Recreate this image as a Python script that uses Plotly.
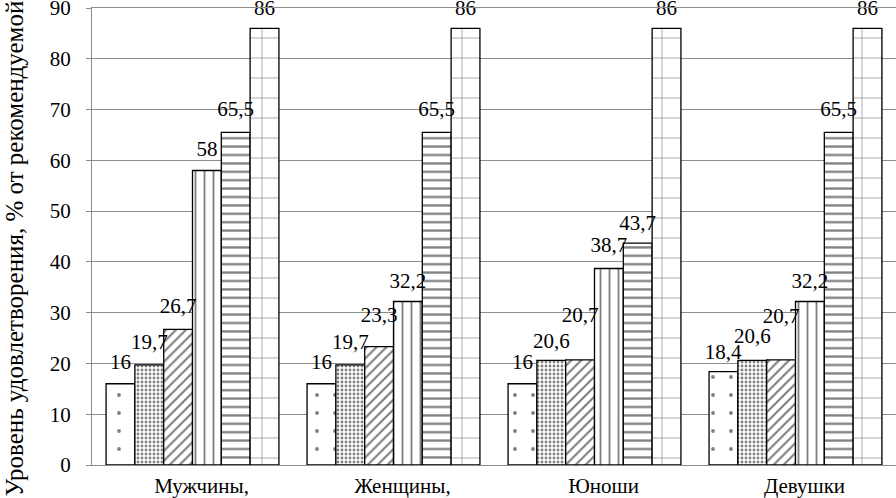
import plotly.graph_objects as go

categories = ["Мужчины,", "Женщины,", "Юноши", "Девушки"]
series_names = ["Ряд 1", "Ряд 2", "Ряд 3", "Ряд 4", "Ряд 5", "Ряд 6"]
s1 = [16, 16, 16, 18.4]
s2 = [19.7, 19.7, 20.6, 20.6]
s3 = [26.7, 23.3, 20.7, 20.7]
s4 = [58, 32.2, 38.7, 32.2]
s5 = [65.5, 65.5, 43.7, 65.5]
s6 = [86, 86, 86, 86]
y_ticks = [0, 10, 20, 30, 40, 50, 60, 70, 80, 90]
y_title = "Уровень удовлетворения, % от рекомендуемой"

series = [s1, s2, s3, s4, s5, s6]

# extra gap (data units) between each bar top and its value label, per series / group
label_lift = [
    [1.25, 1.25, 1.25, 0.85],
    [1.5, 1.5, 0.9, 1.9],
    [1.7, 3.3, 5.8, 5.6],
    [1.2, 1.1, 1.7, 1.1],
    [1.7, 1.7, 1.1, 1.7],
    [1.1, 1.1, 1.1, 1.1],
]

patterns = [
    dict(shape=".", size=18, solidity=0.035, fgcolor="black", bgcolor="white"),
    dict(shape=".", size=4, solidity=0.4, fgcolor="black", bgcolor="white"),
    dict(shape="/", size=7, solidity=0.3, fgcolor="black", bgcolor="white"),
    dict(shape="|", size=9, solidity=0.2, fgcolor="black", bgcolor="white"),
    dict(shape="-", size=8.4, solidity=0.27, fgcolor="black", bgcolor="white"),
    dict(shape="+", size=20, solidity=0.08, fgcolor="#333333", bgcolor="white"),
]

FONT = "Liberation Serif, Times New Roman, Times, serif"

def fmt(v):
    return f"{v:g}".replace(".", ",")

fig = go.Figure()
for i, (name, vals, pat) in enumerate(zip(series_names, series, patterns)):
    fig.add_trace(go.Bar(
        x=categories, y=vals, name=name, offsetgroup=str(i),
        marker=dict(color="white", line=dict(color="black", width=1.3), pattern=pat),
        showlegend=False, hoverinfo="x+y",
    ))
for i, vals in enumerate(series):
    fig.add_trace(go.Bar(
        x=categories, y=label_lift[i], base=vals, offsetgroup=str(i),
        marker=dict(color="rgba(0,0,0,0)", line=dict(width=0)),
        text=[fmt(v) for v in vals], textposition="outside", constraintext="none",
        textfont=dict(family=FONT, size=21, color="black"),
        cliponaxis=False, showlegend=False, hoverinfo="skip",
    ))

fig.update_layout(
    width=896, height=498,
    margin=dict(l=92, r=0, t=8, b=33, autoexpand=False),
    paper_bgcolor="white", plot_bgcolor="white",
    barmode="group", bargap=0.14, bargroupgap=0,
    font=dict(family=FONT, size=20, color="black"),
    xaxis=dict(
        showline=True, mirror=True, linecolor="#8c8c8c", linewidth=1, showgrid=False,
        ticks="", tickfont=dict(family=FONT, size=21, color="black"),
        ticklabelstandoff=2, ticklabelshift=9, automargin=False,
    ),
    yaxis=dict(
        range=[0, 90], tickvals=y_ticks, showgrid=True, gridcolor="#8c8c8c", gridwidth=1,
        zeroline=False, showline=True, linecolor="#8c8c8c", linewidth=1,
        ticks="outside", ticklen=5, tickcolor="#8c8c8c", ticklabeloverflow="allow",
        tickfont=dict(family=FONT, size=21, color="black"), ticklabelstandoff=11,
        automargin=False,
    ),
    annotations=[dict(
        text=y_title, textangle=-90, xref="paper", yref="paper",
        x=0, y=0.5, xanchor="center", yanchor="middle", xshift=-78, yshift=-12,
        showarrow=False, font=dict(family=FONT, size=25, color="black"),
    )],
)

fig.write_html(
    "out.html",
    config={"displayModeBar": False},
    post_script="document.body.style.margin='0';document.body.style.overflow='hidden';",
)
